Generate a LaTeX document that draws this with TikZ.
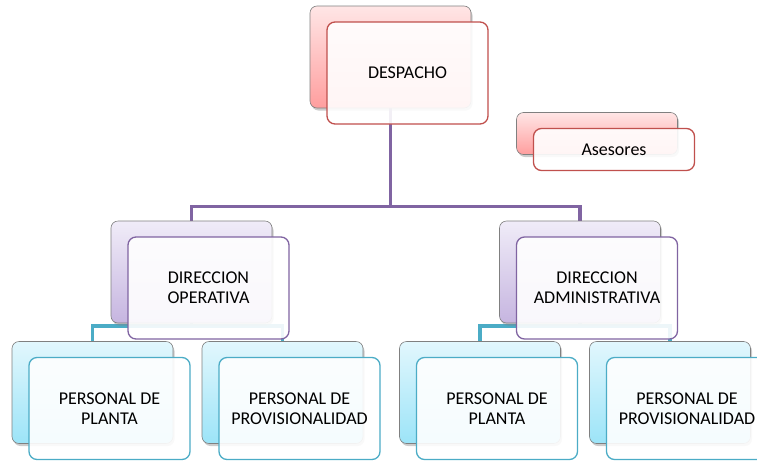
\documentclass[tikz,border=0pt]{standalone}
\usepackage{fontspec}
\setmainfont{Carlito}
\usetikzlibrary{shadows,backgrounds}

\definecolor{rosaborde}{HTML}{C0504D}
\definecolor{rosaclaro}{HTML}{FFE6E6}
\definecolor{rosaoscuro}{HTML}{FF9E9E}
\definecolor{moradoborde}{HTML}{8064A2}
\definecolor{moradoclaro}{HTML}{F0ECF8}
\definecolor{moradooscuro}{HTML}{C6B5E0}
\definecolor{turqborde}{HTML}{4BACC6}
\definecolor{turqclaro}{HTML}{E2F7FD}
\definecolor{turqoscuro}{HTML}{9CE4F8}

\begin{document}
\begin{tikzpicture}[x=1pt, y=-1pt]

\tikzset{
	fondo/.style={draw=gray, line width=0.6pt, rounded corners=7pt, top color=#1claro, bottom color=#1oscuro,
		minimum width=161pt, minimum height=102pt, drop shadow={opacity=0.4, shadow xshift=1.5pt, shadow yshift=-2.5pt}},
	frente/.style={draw=#1borde, line width=1.3pt, fill=white, fill opacity=0.9, text opacity=1, rounded corners=8pt,
		minimum width=161pt, minimum height=102pt, align=center, font=\fontsize{18}{20}\selectfont},
	linea/.style={draw=#1borde, line width=3.5pt},
}

\useasboundingbox (0, 0) rectangle (757, 461);

\newcommand\caja[5][]{
	\node[fondo=#3, #1] (#2-b) at #4 {};
	\node[frente=#3, #1] (#2) at ([xshift=17pt, yshift=-16pt]#2-b.center) {#5};
}

\caja{desp}{rosa}{(390.5, 57)}{DESPACHO};
\caja[minimum width=161pt, minimum height=42pt]{ases}{rosa}{(597, 133.5)}{Asesores};

\caja{dop}{morado}{(191.5, 272)}{DIRECCION\\OPERATIVA};
\caja{dad}{morado}{(580, 272)}{DIRECCION\\ADMINISTRATIVA};

\caja{pp1}{turq}{(92.5, 392.5)}{PERSONAL DE\\PLANTA};
\caja{pp2}{turq}{(282.5, 392.5)}{PERSONAL DE\\PROVISIONALIDAD};
\caja{pp3}{turq}{(480, 392.5)}{PERSONAL DE\\PLANTA};
\caja{pp4}{turq}{(670, 392.5)}{PERSONAL DE\\PROVISIONALIDAD};

\begin{scope}[on background layer]
	\draw[linea=morado] (desp-b.south) |- ([yshift=14pt]dop-b.north) -- (dop-b.north);
	\draw[linea=morado] (desp-b.south) |- ([yshift=14pt]dad-b.north) -- (dad-b.north);
	\foreach \d/\a/\b in {dop/pp1/pp2, dad/pp3/pp4} {
		\draw[linea=turq] (\d-b.south) |- ([yshift=15pt]\a-b.north) -- (\a-b.north);
		\draw[linea=turq] (\d-b.south) |- ([yshift=15pt]\b-b.north) -- (\b-b.north);
	}
\end{scope}

\end{tikzpicture}
\end{document}
